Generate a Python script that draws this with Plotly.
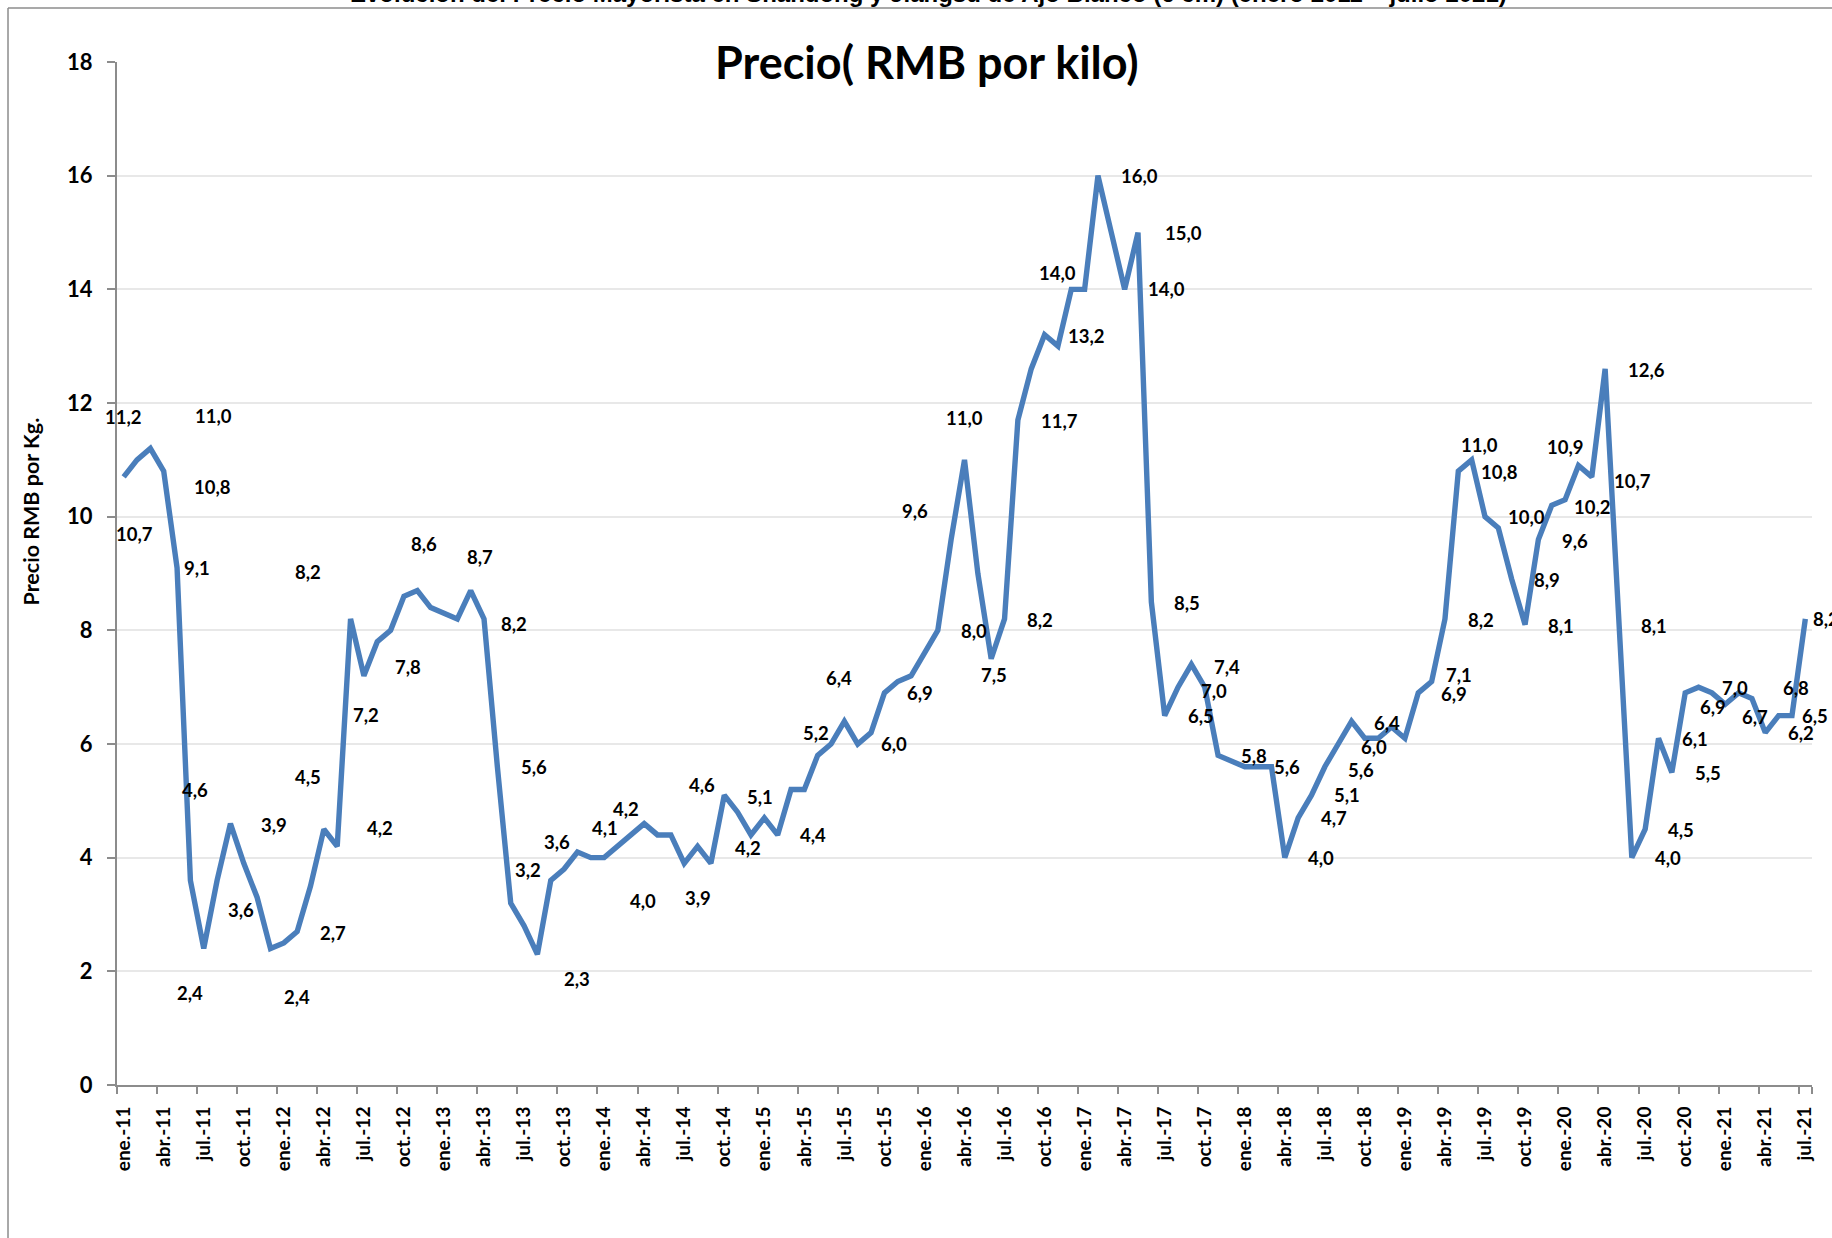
import plotly.graph_objects as go

# ---------------- data ----------------
MONTHS_ES = ["ene.", "feb.", "mar.", "abr.", "may.", "jun.", "jul.", "ago.", "sep.", "oct.", "nov.", "dic."]
START_YEAR = 2011

PRICES = [
    10.7, 11.0, 11.2, 10.8, 9.1, 3.6, 2.4, 3.6, 4.6, 3.9, 3.3, 2.4,      # 2011
    2.5, 2.7, 3.5, 4.5, 4.2, 8.2, 7.2, 7.8, 8.0, 8.6, 8.7, 8.4,          # 2012
    8.3, 8.2, 8.7, 8.2, 5.6, 3.2, 2.8, 2.3, 3.6, 3.8, 4.1, 4.0,          # 2013
    4.0, 4.2, 4.4, 4.6, 4.4, 4.4, 3.9, 4.2, 3.9, 5.1, 4.8, 4.4,          # 2014
    4.7, 4.4, 5.2, 5.2, 5.8, 6.0, 6.4, 6.0, 6.2, 6.9, 7.1, 7.2,          # 2015
    7.6, 8.0, 9.6, 11.0, 9.0, 7.5, 8.2, 11.7, 12.6, 13.2, 13.0, 14.0,    # 2016
    14.0, 16.0, 15.0, 14.0, 15.0, 8.5, 6.5, 7.0, 7.4, 7.0, 5.8, 5.7,     # 2017
    5.6, 5.6, 5.6, 4.0, 4.7, 5.1, 5.6, 6.0, 6.4, 6.1, 6.1, 6.3,          # 2018
    6.1, 6.9, 7.1, 8.2, 10.8, 11.0, 10.0, 9.8, 8.9, 8.1, 9.6, 10.2,      # 2019
    10.3, 10.9, 10.7, 12.6, 8.1, 4.0, 4.5, 6.1, 5.5, 6.9, 7.0, 6.9,      # 2020
    6.7, 6.9, 6.8, 6.2, 6.5, 6.5, 8.2,                                   # 2021 (ene-jul)
]

# month labels: "ene.-11", ...
CATEGORIES = [f"{MONTHS_ES[k % 12]}-{(START_YEAR + k // 12) % 100:02d}" for k in range(len(PRICES))]
TICK_STEP = 3

# data labels shown (index of the month) and their pixel offsets from the point
LABEL_IDX = [0, 1, 2, 3, 4, 6, 7, 8, 9, 11, 13, 15, 16, 17, 18, 19, 21, 26, 27, 28,
             29, 31, 32, 34, 36, 37, 39, 42, 43, 45, 49, 50, 54, 55, 57, 61, 62, 63, 65, 66,
             67, 69, 71, 73, 75, 76, 77, 78, 80, 81, 82, 85, 87, 88, 89, 90, 91, 92, 97, 98,
             99, 100, 101, 102, 104, 105, 106, 107, 109, 110, 111, 112, 113, 114, 115, 116, 117, 118, 120, 122,
             123, 124, 126]
LABEL_DX = [10.6, 76.3, -26.4, 48.3, 20.2, -13.8, 23.9, -35.5, 29.9, 26.8, 36.1, -16.3, 42.7, -42.4, 2.0, 30.4, 20.3, 9.2, 29.9, 36.5,
            17.5, 39.2, 6.4, 27.7, 38.4, 8.1, 58.0, 13.3, 50.0, 35.6, 35.5, 24.8, -5.6, 36.4, 35.7, 36.0, -36.4, -0.5, 2.6, 35.9,
            41.2, 41.9, -13.9, 41.8, 41.8, 45.7, 35.7, 36.0, 36.0, 9.3, 35.9, 29.2, 35.8, 35.8, 35.9, 35.8, 35.8, 35.8, 35.7, 27.3,
            35.7, 41.3, 8.0, 41.3, 35.6, 35.6, 36.2, 41.2, -13.2, 41.1, 41.8, 35.4, 36.0, 36.1, 36.0, 36.0, 27.7, 36.0, 29.3, 44.3,
            35.9, 35.9, 21.0]
LABEL_DY = [56.9, -44.1, -31.0, 15.6, 0.6, 44.1, 29.9, -33.2, -38.7, 48.6, 1.2, -52.4, -18.4, -47.3, 39.5, 25.0, -52.7, -33.6, 5.0, 0.0,
            -32.8, 24.7, -38.4, -23.5, 43.8, -37.7, -38.4, 34.8, 1.2, 1.4, 0.2, -56.6, -42.8, 0.3, 0.4, 1.1, -28.5, -42.2, 16.2, 1.0,
            0.7, 1.4, -16.1, 0.8, 0.0, 0.2, 1.5, 0.8, 2.2, 3.6, 1.1, 0.0, 0.3, 0.1, -0.4, 3.7, 2.5, 1.8, 0.9, -6.0,
            0.9, 0.4, -15.0, 0.5, 0.7, 0.9, 1.2, 1.3, -18.3, 3.7, 1.0, 1.2, 0.3, 1.2, 0.7, 0.6, 14.2, 0.9, 12.3, -10.5,
            0.4, 0.9, 0.0]

TITLE = "Precio( RMB por kilo)"
TOP_TITLE = "Evolución del Precio Mayorista en Shandong y Jiangsu de Ajo Blanco (6 cm) (enero 2011 – julio 2021)"
Y_TITLE = "Precio RMB por Kg."

# ---------------- figure ----------------
LINE_COLOR = "#4A7EBB"
AXIS_COLOR = "#8C8C8C"
GRID_COLOR = "#E8E8E8"
BOLD = "Lato"

x_idx = list(range(len(PRICES)))
tick_idx = list(range(0, len(PRICES), TICK_STEP))
boundaries = [k - 0.5 for k in tick_idx] + [len(PRICES) - 0.5]

fig = go.Figure()
fig.add_trace(go.Scatter(
    x=x_idx, y=PRICES, mode="lines",
    line=dict(color=LINE_COLOR, width=5.4),
    hoverinfo="skip", showlegend=False,
))

annotations = []
for k, dx, dy in zip(LABEL_IDX, LABEL_DX, LABEL_DY):
    annotations.append(dict(
        x=k, y=PRICES[k], xref="x", yref="y",
        text=f"{PRICES[k]:.1f}".replace(".", ","),
        showarrow=False, xanchor="center", yanchor="middle",
        xshift=dx, yshift=-dy,
        font=dict(family=BOLD, size=18.5, color="black", weight="bold"),
    ))

annotations.append(dict(
    x=0.478, y=1.0, xref="paper", yref="paper", text=f"<b>{TITLE}</b>",
    showarrow=False, xanchor="center", yanchor="middle",
    font=dict(family=BOLD, size=45, color="black"),
))
annotations.append(dict(
    x=0.479, y=1.0665, xref="paper", yref="paper", text=f"<b>{TOP_TITLE}</b>",
    showarrow=False, xanchor="center", yanchor="middle",
    font=dict(family="Liberation Sans", size=24, color="black"),
))
annotations.append(dict(
    x=-0.0505, y=0.561, xref="paper", yref="paper", text=f"<b>{Y_TITLE}</b>",
    showarrow=False, xanchor="center", yanchor="middle", textangle=-90,
    font=dict(family=BOLD, size=21.5, color="black"),
))

fig.update_layout(
    width=1832, height=1238,
    margin=dict(l=117, r=20, t=62, b=153),
    paper_bgcolor="white", plot_bgcolor="white",
    annotations=annotations,
    shapes=[
        dict(type="line", xref="paper", yref="paper", x0=-0.0643, x1=-0.0643, y0=1.0528, y1=-0.2,
             line=dict(color=AXIS_COLOR, width=1.5)),
        dict(type="line", xref="paper", yref="paper", x0=-0.0643, x1=1.05, y0=1.0528, y1=1.0528,
             line=dict(color=AXIS_COLOR, width=1.5)),
    ],
    xaxis=dict(
        range=[-0.5, len(PRICES) - 0.5],
        tickmode="array", tickvals=tick_idx, ticktext=[CATEGORIES[k] for k in tick_idx],
        tickangle=-90, ticks="",
        tickfont=dict(family=BOLD, size=19, color="black", weight="bold"),
        showline=True, linecolor=AXIS_COLOR, linewidth=2,
        showgrid=False, zeroline=False,
        minor=dict(tickmode="array", tickvals=boundaries, ticks="outside", ticklen=7,
                   tickcolor=AXIS_COLOR, tickwidth=1.5, showgrid=False),
        ticklabelstandoff=12,
    ),
    yaxis=dict(
        range=[0, 18], tickmode="linear", tick0=0, dtick=2,
        tickfont=dict(family=BOLD, size=22, color="black", weight="bold"),
        showline=True, linecolor=AXIS_COLOR, linewidth=2,
        ticks="outside", ticklen=8, tickcolor=AXIS_COLOR, tickwidth=1.5,
        showgrid=True, gridcolor=GRID_COLOR, gridwidth=1.5,
        zeroline=False, ticklabelstandoff=10,
    ),
)

fig.write_html(
    "out.html",
    config={"displayModeBar": False},
    post_script="document.body.style.margin='0';document.body.style.overflow='hidden';",
)
